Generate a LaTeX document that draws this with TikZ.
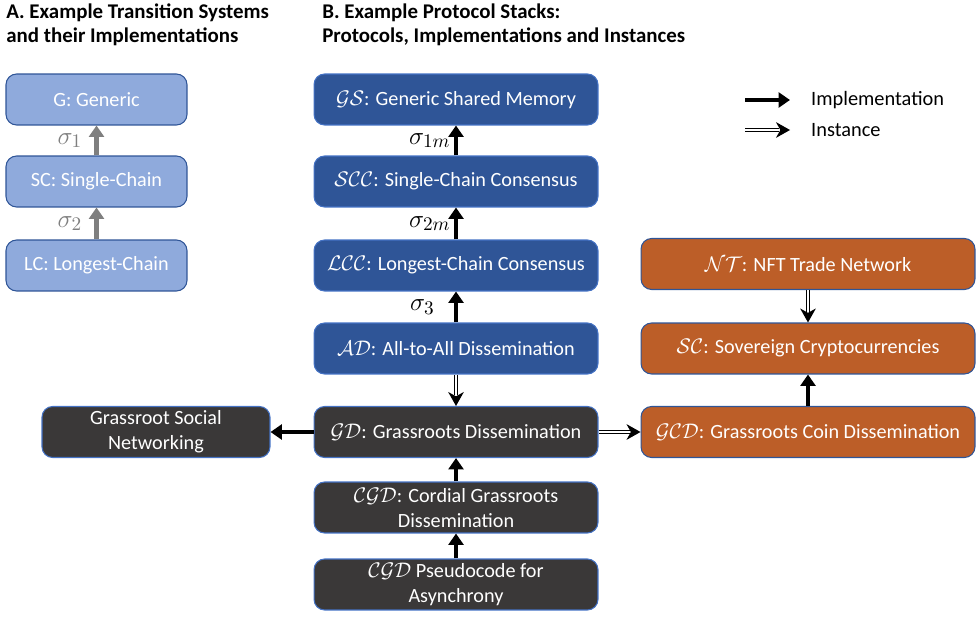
\documentclass[tikz,border=0pt]{standalone}
\usepackage{fontspec}
\setmainfont{Carlito}
\usepackage{amsmath,amssymb}
\usepackage{xcolor}
\usetikzlibrary{arrows.meta,positioning,decorations.markings}
\definecolor{lblue}{RGB}{143,170,220}
\definecolor{mblue}{RGB}{47,85,151}
\definecolor{eblue}{RGB}{68,114,196}
\definecolor{dgray}{RGB}{58,56,56}
\definecolor{morange}{RGB}{188,94,40}
\definecolor{sgray}{RGB}{127,127,127}

\begin{document}
\begin{tikzpicture}[x=0.02cm,y=-0.02cm]
    \tikzstyle{box}=[draw=eblue,line width=0.6pt,rounded corners=6pt,minimum height=1.02cm,text=white,align=center,inner sep=2pt,font=\fontsize{11.5}{14.2}\selectfont]
    \tikzstyle{trans}=[box,fill=lblue,draw=mblue,minimum width=3.62cm]
    \tikzstyle{proto}=[box,fill=mblue,minimum width=5.68cm]
    \tikzstyle{grass}=[box,fill=dgray,minimum width=5.68cm]
    \tikzstyle{coin}=[box,fill=morange,draw=mblue,minimum width=6.68cm]
    \tikzstyle{title}=[anchor=west,align=left,inner sep=0pt,font=\fontsize{11.9}{13.6}\selectfont\bfseries]
    \tikzstyle{impl}=[line width=2.3pt,-{Triangle[length=6.5pt,width=8.5pt]}]
    \tikzstyle{inst}=[double,double distance=1.5pt,line width=0.6pt,shorten >=6pt,
      postaction={decorate,decoration={markings,mark=at position 1 with
        {\fill[black] (0pt,0pt) -- (-8pt,4.5pt) -- (-5.5pt,0pt) -- (-8pt,-4.5pt) -- cycle;}}}]
    \tikzstyle{sig}=[font=\fontsize{15.5}{17}\selectfont,inner sep=1pt]

    \useasboundingbox (0,0) rectangle (977,618);

    % titles
    \node[title] (ta) at (6,25) {A. Example Transition Systems\\and their Implementations};
    \node[title] (tb) at (322,25) {B. Example Protocol Stacks:\\Protocols, Implementations and Instances};

    % A: transition systems
    \node[trans] (g) at (96.5,99.5) {G: Generic};
    \node[trans] (sc) at (96.5,181.5) {SC: Single-Chain};
    \node[trans] (lc) at (96.5,265.5) {LC: Longest-Chain};

    % B: protocol stack
    \node[proto] (gs) at (456,99.5) {$\mathcal{GS}$: Generic Shared Memory};
    \node[proto] (scc) at (456,181.5) {$\mathcal{SCC}$: Single-Chain Consensus};
    \node[proto] (lcc) at (456,265.5) {$\mathcal{LCC}$: Longest-Chain Consensus};
    \node[proto] (ad) at (456,348.5) {$\mathcal{AD}$: All-to-All Dissemination};
    \node[grass] (gd) at (456,432) {$\mathcal{GD}$: Grassroots Dissemination};
    \node[grass] (cgd) at (456,507.5) {$\mathcal{CGD}$: Cordial Grassroots\\Dissemination};
    \node[grass] (pseudo) at (456,584.5) {$\mathcal{CGD}$ Pseudocode for\\Asynchrony};
    \node[grass,minimum width=4.56cm] (gsn) at (156,432) {Grassroot Social\\Networking};

    % coins
    \node[coin] (nt) at (808,264) {$\mathcal{NT}$: NFT Trade Network};
    \node[coin] (sov) at (808,348.5) {$\mathcal{SC}$: Sovereign Cryptocurrencies};
    \node[coin] (gcd) at (808,432) {$\mathcal{GCD}$: Grassroots Coin Dissemination};

    % legend
    \coordinate (i1) at (745,100);
    \coordinate (i2) at (790,100);
    \coordinate (n1) at (745,130);
    \coordinate (n2) at (790,130);
    \node[anchor=west,font=\fontsize{11.6}{13}\selectfont] (limp) at (805,100) {Implementation};
    \node[anchor=west,font=\fontsize{11.6}{13}\selectfont] (linst) at (805,130) {Instance};

    \path
    (sc) edge [impl,draw=sgray] node[sig,left=6pt,text=sgray] {$\sigma_1$} (g)
    (lc) edge [impl,draw=sgray] node[sig,left=6pt,text=sgray] {$\sigma_2$} (sc)
    (scc) edge [impl] node[sig,left=1pt] {$\sigma_{1m}$} (gs)
    (lcc) edge [impl] node[sig,left=1pt] {$\sigma_{2m}$} (scc)
    (ad) edge [impl] node[sig,left=10pt] {$\sigma_3$} (lcc)
    (ad) edge [inst] (gd)
    (cgd) edge [impl] (gd)
    (pseudo) edge [impl] (cgd)
    (gd) edge [impl] (gsn)
    (gd) edge [inst] (gcd)
    (nt) edge [inst] (sov)
    (gcd) edge [impl] (sov)
    (i1) edge [impl] (i2)
    (n1) edge [inst] (n2);
\end{tikzpicture}
\end{document}
